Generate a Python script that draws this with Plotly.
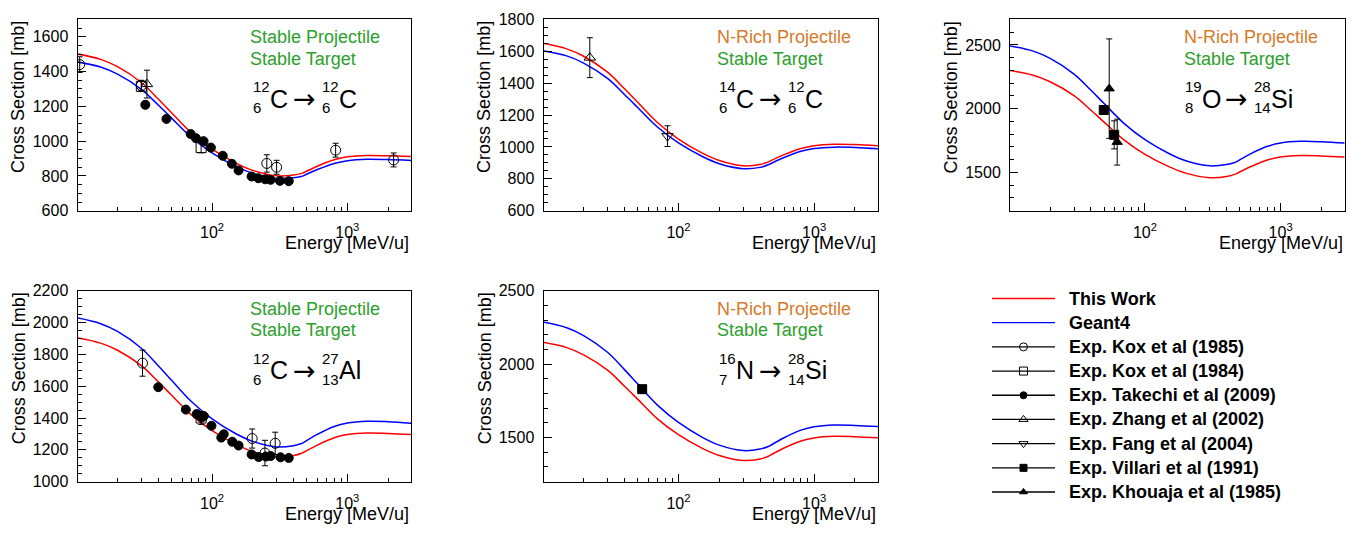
import plotly.graph_objects as go

# ---------------- data ----------------
# energy grid (MeV/u) on which the model curves were read; index 12 is the kink
energy_grid = [10, 15, 20, 30, 40, 50, 70, 100, 150, 200, 300, 400, 465, 600, 800, 1000, 1400, 2000, 3000]
KINK = 12

c12_c12_this = [1502, 1470, 1428, 1337, 1242, 1165, 1049, 954, 874, 832, 801, 805, 815, 856, 893, 910, 918, 916, 911]
c12_c12_g4 = [1456, 1426, 1385, 1298, 1208, 1134, 1023, 933, 855, 815, 786, 790, 798, 837, 872, 888, 896, 894, 889]
c14_c12_this = [1650, 1615, 1569, 1469, 1365, 1280, 1153, 1049, 961, 915, 882, 890, 908, 952, 991, 1008, 1017, 1015, 1008]
c14_c12_g4 = [1604, 1571, 1526, 1430, 1329, 1248, 1125, 1025, 940, 895, 864, 872, 890, 934, 973, 990, 999, 997, 988]
o19_si28_this = [2300, 2262, 2211, 2102, 1988, 1895, 1756, 1642, 1546, 1495, 1459, 1468, 1487, 1545, 1598, 1621, 1633, 1630, 1621]
o19_si28_g4 = [2493, 2451, 2394, 2271, 2144, 2040, 1885, 1757, 1649, 1592, 1552, 1562, 1580, 1646, 1705, 1731, 1744, 1741, 1730]
c12_al27_this = [1905, 1871, 1826, 1729, 1628, 1545, 1421, 1320, 1234, 1189, 1157, 1164, 1180, 1230, 1276, 1296, 1306, 1303, 1296]
c12_al27_g4 = [2030, 1993, 1945, 1839, 1729, 1639, 1505, 1395, 1301, 1253, 1218, 1226, 1241, 1297, 1347, 1369, 1380, 1377, 1367]
n16_si28_this = [2149, 2113, 2064, 1959, 1850, 1762, 1628, 1520, 1427, 1378, 1344, 1354, 1375, 1429, 1477, 1498, 1509, 1506, 1498]
n16_si28_g4 = [2287, 2248, 2195, 2081, 1963, 1866, 1721, 1603, 1502, 1449, 1412, 1422, 1441, 1499, 1551, 1574, 1586, 1583, 1575]

# experimental data: energy, cross section, error
kox85_c12_e = [10.5, 30, 254, 300, 820, 2200]
kox85_c12_v = [1440, 1320, 872, 850, 948, 892]
kox85_c12_err = [45, 30, 50, 40, 40, 40]
kox84_c12_e = [30, 83]
kox84_c12_v = [1315, 963]
kox84_c12_err = [30, 30]
takechi_c12_e = [32.1, 46, 69.5, 76, 86.5, 98, 120, 140, 157, 196, 220, 247, 271, 318, 369]
takechi_c12_v = [1209, 1128, 1041, 1017, 1000, 963, 916, 870, 832, 797, 787, 781, 778, 772, 770]
takechi_c12_err = [20, 12, 12, 12, 12, 12, 12, 12, 12, 10, 10, 10, 10, 10, 10]
zhang_c12_e = [33]
zhang_c12_v = [1328]
zhang_c12_err = [80]

zhang_c14_e = [22.2]
zhang_c14_v = [1560]
zhang_c14_err = [125]
fang_c14_e = [83]
fang_c14_v = [1068]
fang_c14_err = [65]

villari_o19_e = [49.7, 59.3]
villari_o19_v = [1990, 1795]
villari_o19_err = [25, 110]
khouaja_o19_e = [54.5, 62.4]
khouaja_o19_v = [2157, 1738]
khouaja_o19_err = [390, 180]

kox85_al_e = [30.6, 198, 246, 293]
kox85_al_v = [1745, 1271, 1180, 1241]
kox85_al_err = [82, 60, 80, 70]
kox84_al_e = [83]
kox84_al_v = [1400]
kox84_al_err = [40]
takechi_al_e = [40, 64, 77, 84, 87, 99, 117, 122, 141, 157, 196, 221, 250, 271, 321, 369]
takechi_al_v = [1594, 1453, 1425, 1404, 1412, 1351, 1277, 1298, 1251, 1227, 1171, 1155, 1158, 1161, 1153, 1149]
takechi_al_err = [15, 15, 12, 12, 12, 12, 12, 12, 12, 12, 12, 12, 12, 12, 12, 12]

villari_n16_e = [54]
villari_n16_v = [1830]
villari_n16_err = [20]

legend_labels = ["This Work", "Geant4", "Exp. Kox et al (1985)", "Exp. Kox et al (1984)",
                 "Exp. Takechi et al (2009)", "Exp. Zhang et al (2002)", "Exp. Fang et al (2004)",
                 "Exp. Villari et al (1991)", "Exp. Khouaja et al (1985)"]

# ---------------- style / layout ----------------
# the page keeps the browser's 8 px body margin, so the figure is 16 px smaller
# than the window and all placements below are given in window pixels.
WIN_W, WIN_H, PAD = 1367, 539, 8
W, H = WIN_W - 2 * PAD, WIN_H - 2 * PAD
FONT = "Liberation Sans, Arial, Helvetica, sans-serif"
GREEN = "#2ca02c"
ORANGE = "#d67a2a"


def dx(px):
    return (px - PAD) / W


def dy(py):
    return 1 - (py - PAD) / H


MARK = {
    "kox85": dict(symbol="circle-open", size=10),
    "kox84": dict(symbol="square-open", size=10),
    "takechi": dict(symbol="circle", size=9),
    "zhang": dict(symbol="triangle-up-open", size=10),
    "fang": dict(symbol="triangle-down-open", size=10),
    "villari": dict(symbol="square", size=9),
    "khouaja": dict(symbol="triangle-up", size=9),
}
LEG_KEYS = [None, None, "kox85", "kox84", "takechi", "zhang", "fang", "villari", "khouaja"]

col_px = [(77.5, 411.0), (543.5, 878.0), (1010.0, 1344.5)]
row_px = [(11.5, 209.3), (292.0, 489.3)]

panels = [
    dict(col=0, row=0, yr=(600, 1700), dt=200, mdt=50, this=c12_c12_this, g4=c12_c12_g4,
         proj="Stable Projectile", pcol=GREEN,
         reac=[("12", "6", "C"), ("12", "6", "C")],
         exp=[("kox85", kox85_c12_e, kox85_c12_v, kox85_c12_err),
              ("kox84", kox84_c12_e, kox84_c12_v, kox84_c12_err),
              ("zhang", zhang_c12_e, zhang_c12_v, zhang_c12_err),
              ("takechi", takechi_c12_e, takechi_c12_v, takechi_c12_err)]),
    dict(col=1, row=0, yr=(600, 1800), dt=200, mdt=50, this=c14_c12_this, g4=c14_c12_g4,
         proj="N-Rich Projectile", pcol=ORANGE,
         reac=[("14", "6", "C"), ("12", "6", "C")],
         exp=[("zhang", zhang_c14_e, zhang_c14_v, zhang_c14_err),
              ("fang", fang_c14_e, fang_c14_v, fang_c14_err)]),
    dict(col=2, row=0, yr=(1200, 2700), dt=500, mdt=100, this=o19_si28_this, g4=o19_si28_g4,
         proj="N-Rich Projectile", pcol=ORANGE,
         reac=[("19", "8", "O"), ("28", "14", "Si")],
         exp=[("villari", villari_o19_e, villari_o19_v, villari_o19_err),
              ("khouaja", khouaja_o19_e, khouaja_o19_v, khouaja_o19_err)]),
    dict(col=0, row=1, yr=(1000, 2200), dt=200, mdt=50, this=c12_al27_this, g4=c12_al27_g4,
         proj="Stable Projectile", pcol=GREEN,
         reac=[("12", "6", "C"), ("27", "13", "Al")],
         exp=[("kox85", kox85_al_e, kox85_al_v, kox85_al_err),
              ("kox84", kox84_al_e, kox84_al_v, kox84_al_err),
              ("takechi", takechi_al_e, takechi_al_v, takechi_al_err)]),
    dict(col=1, row=1, yr=(1200, 2500), dt=500, mdt=100, this=n16_si28_this, g4=n16_si28_g4,
         proj="N-Rich Projectile", pcol=ORANGE,
         reac=[("16", "7", "N"), ("28", "14", "Si")],
         exp=[("villari", villari_n16_e, villari_n16_v, villari_n16_err)]),
]

fig = go.Figure()
annotations = []
layout = dict(
    width=W, height=H, margin=dict(l=0, r=0, t=0, b=0, pad=0), autosize=False,
    paper_bgcolor="white", plot_bgcolor="rgba(0,0,0,0)",
    showlegend=False, font=dict(family=FONT, color="black"),
)

minor_x = [20, 30, 40, 50, 60, 70, 80, 90, 200, 300, 400, 500, 600, 700, 800, 900, 2000, 3000]

for i, p in enumerate(panels, start=1):
    xa = "x" if i == 1 else f"x{i}"
    ya = "y" if i == 1 else f"y{i}"
    x0, x1 = col_px[p["col"]]
    t, b = row_px[p["row"]]
    layout[f"xaxis{'' if i == 1 else i}"] = dict(
        type="log", range=[1.005, 3.471], domain=[dx(x0), dx(x1)], anchor=ya,
        showline=True, mirror=True, linecolor="black", linewidth=1,
        ticks="inside", ticklen=8, tickcolor="black", tickwidth=1,
        tickvals=[100, 1000], ticktext=["10<sup>2</sup>", "10<sup>3</sup>"],
        tickfont=dict(size=16, family=FONT), ticklabelstandoff=7,
        minor=dict(ticks="inside", ticklen=4, tickvals=minor_x, tickcolor="black", showgrid=False),
        showgrid=False, zeroline=False, fixedrange=True,
    )
    layout[f"yaxis{'' if i == 1 else i}"] = dict(
        range=list(p["yr"]), domain=[dy(b), dy(t)], anchor=xa,
        showline=True, mirror=True, linecolor="black", linewidth=1,
        ticks="inside", ticklen=8, tickcolor="black", tickwidth=1,
        tick0=0, dtick=p["dt"], tickfont=dict(size=16, family=FONT), ticklabelstandoff=5,
        minor=dict(ticks="inside", ticklen=4, dtick=p["mdt"], tick0=0, tickcolor="black", showgrid=False),
        showgrid=False, zeroline=False, fixedrange=True,
    )
    # model curves: two smooth segments joined at the kink
    for vals, col in ((p["g4"], "blue"), (p["this"], "red")):
        for sl in (slice(0, KINK + 1), slice(KINK, None)):
            fig.add_trace(go.Scatter(
                x=energy_grid[sl], y=vals[sl], mode="lines", xaxis=xa, yaxis=ya,
                line=dict(color=col, width=1.5, shape="spline", smoothing=1.0),
                hoverinfo="skip"))
    # experimental points
    for key, e, v, err in p["exp"]:
        m = MARK[key]
        fig.add_trace(go.Scatter(
            x=e, y=v, mode="markers", xaxis=xa, yaxis=ya,
            marker=dict(symbol=m["symbol"], size=m["size"], color="black",
                        line=dict(color="black", width=1)),
            error_y=dict(type="data", array=err, visible=True, color="black", thickness=1, width=3),
        ))
    # axis titles
    annotations.append(dict(x=x1, y=b + 33.5, xref="x6", yref="y6", text="Energy [MeV/u]",
                            showarrow=False, xanchor="right", yanchor="middle",
                            font=dict(size=18, family=FONT)))
    annotations.append(dict(x=x0 - 59, y=t, xref="x6", yref="y6", text="Cross Section [mb]",
                            showarrow=False, xanchor="center", yanchor="top", textangle=-90,
                            font=dict(size=18, family=FONT)))
    # category text
    tx = x0 + (170.5 if p["col"] == 0 else 171.5)
    annotations.append(dict(x=tx, y=t + 18.5, xref="x6", yref="y6", text=p["proj"],
                            showarrow=False, xanchor="left", yanchor="middle",
                            font=dict(size=18, family=FONT, color=p["pcol"])))
    annotations.append(dict(x=tx, y=t + 40.5, xref="x6", yref="y6", text="Stable Target",
                            showarrow=False, xanchor="left", yanchor="middle",
                            font=dict(size=18, family=FONT, color=GREEN)))
    # reaction label with stacked mass / atomic numbers
    ym = t + 82
    left = x0 + 173

    def iso(xl, mass, z, sym):
        w = 8.3 * max(len(mass), len(z)) + 0.5
        annotations.append(dict(x=xl, y=ym - 12.5, xref="x6", yref="y6", text=mass, showarrow=False,
                                xanchor="left", yanchor="middle", font=dict(size=15, family=FONT)))
        annotations.append(dict(x=xl, y=ym + 9.5, xref="x6", yref="y6", text=z, showarrow=False,
                                xanchor="left", yanchor="middle", font=dict(size=15, family=FONT)))
        annotations.append(dict(x=xl + w, y=ym, xref="x6", yref="y6", text=sym, showarrow=False,
                                xanchor="left", yanchor="middle", font=dict(size=25, family=FONT)))
        return xl + w + 19.0 * len(sym)

    (m1, z1, s1), (m2, z2, s2) = p["reac"]
    xr = iso(left, m1, z1, s1)
    annotations.append(dict(x=xr + 4, y=ym, xref="x6", yref="y6", text="\u2192", showarrow=False,
                            xanchor="left", yanchor="middle", font=dict(size=27, family="DejaVu Sans")))
    iso(xr + 4 + 28 + 1, m2, z2, s2)

# overlay axis in window pixels, used for the legend and text placement
layout["xaxis6"] = dict(domain=[0, 1], range=[PAD, PAD + W], visible=False, anchor="y6", fixedrange=True)
layout["yaxis6"] = dict(domain=[0, 1], range=[PAD + H, PAD], visible=False, anchor="x6", fixedrange=True)

leg_x0, leg_x1, leg_txt, leg_y0, leg_dy = 992, 1055, 1067, 300, 25
for k, lab in enumerate(legend_labels):
    yy = leg_y0 + leg_dy * k
    col = "red" if k == 0 else ("blue" if k == 1 else "black")
    fig.add_trace(go.Scatter(x=[leg_x0, leg_x1], y=[yy, yy], mode="lines", xaxis="x6", yaxis="y6",
                             line=dict(color=col, width=1.3), hoverinfo="skip"))
    key = LEG_KEYS[k]
    if key:
        m = MARK[key]
        fig.add_trace(go.Scatter(x=[(leg_x0 + leg_x1) / 2], y=[yy], mode="markers", xaxis="x6", yaxis="y6",
                                 marker=dict(symbol=m["symbol"], size=m["size"] - 2, color="black",
                                             line=dict(color="black", width=1)), hoverinfo="skip"))
    annotations.append(dict(x=leg_txt, y=yy, xref="x6", yref="y6", text=f"<b>{lab}</b>", showarrow=False,
                            xanchor="left", yanchor="middle", font=dict(size=18, family=FONT)))

layout["annotations"] = annotations
fig.update_layout(**layout)

fig.write_html("out.html", config={"displayModeBar": False})
